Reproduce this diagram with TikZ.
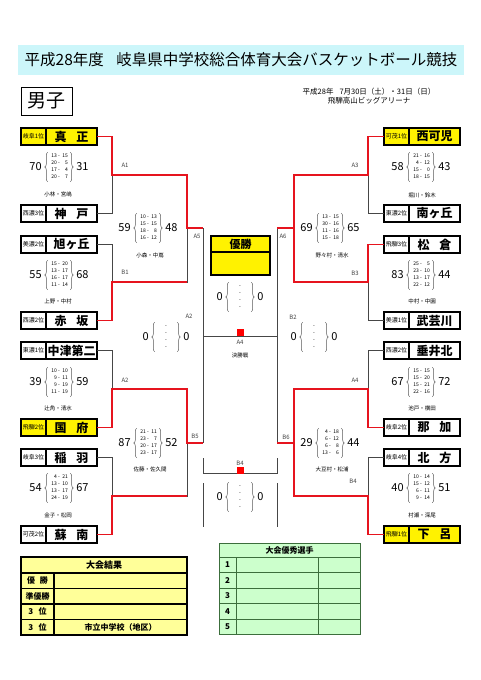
\documentclass[tikz,border=0pt]{standalone}
\usepackage{fontspec}
\setmainfont{Noto Sans CJK JP}
\usepackage{array}
\usepackage{tikz}
\usetikzlibrary{positioning,decorations.pathreplacing}
\newcolumntype{R}{>{\raggedleft\arraybackslash}p{7pt}}
\definecolor{titlecyan}{RGB}{204,246,250}
\definecolor{resyellow}{RGB}{255,255,153}
\definecolor{mvpgreen}{RGB}{204,255,204}
\definecolor{mvpline}{RGB}{60,110,60}
\definecolor{winred}{RGB}{230,20,30}
\definecolor{bline}{RGB}{70,70,70}
\tikzstyle{teamlbl} = [draw, line width=1.3pt, outer sep=0pt, inner sep=0pt, minimum width=25pt, minimum height=17pt, font=\fontsize{6}{6}\selectfont]
\tikzstyle{teamname} = [draw, line width=1.3pt, outer sep=0pt, inner sep=0pt, minimum width=51pt, minimum height=17pt, font=\fontsize{12}{12}\selectfont\bfseries]
\tikzstyle{seed} = [fill=yellow]
\tikzstyle{won} = [draw=winred, line width=1.6pt]
\tikzstyle{lost} = [draw=bline, line width=0.9pt]
\tikzstyle{sets} = [inner xsep=2pt, inner ysep=0.5pt, font=\fontsize{5}{7}\selectfont]
\tikzstyle{brc} = [decorate, decoration={brace, amplitude=3pt}, draw=black!65, line width=0.5pt]
\tikzstyle{pts} = [inner sep=0pt, font=\fontsize{11}{11}\selectfont]
\tikzstyle{refs} = [font=\fontsize{5.5}{6}\selectfont]
\tikzstyle{gameid} = [text=black!75, font=\fontsize{6}{6}\selectfont]
\tikzstyle{restab} = [draw, fill=resyellow, line width=1.2pt, outer sep=0pt, inner sep=0pt, minimum height=15.5pt, font=\fontsize{8}{8}\selectfont\bfseries]
\tikzstyle{mvptab} = [draw=mvpline, fill=mvpgreen, line width=0.8pt, outer sep=0pt, inner sep=0pt, minimum height=15.5pt, font=\fontsize{8}{8}\selectfont\bfseries]
\newcommand{\game}[5]{%
  \node[sets] (#1) at #2 {\begin{tabular}{@{}R@{\ -\ }R@{}}#5\end{tabular}};
  \draw[brc] (#1.south west) -- (#1.north west);
  \draw[brc] (#1.north east) -- (#1.south east);
  \node[pts, left=6pt of #1] (#1l) {#3};
  \node[pts, right=6pt of #1] (#1r) {#4};}

\begin{document}
\begin{tikzpicture}[x=1pt,y=-1pt]
	\useasboundingbox (0,0) rectangle (481,680);
	\fill[white] (0,0) rectangle (481,680);
	% heading
	\node[fill=titlecyan, minimum width=446pt, minimum height=30pt, inner sep=0pt, font=\fontsize{15.5}{16}\selectfont] (ttl) at (241,60) {平成28年度\hspace{0.8em}岐阜県中学校総合体育大会バスケットボール競技};
	\node[draw, line width=0.9pt, minimum width=51pt, minimum height=28pt, inner sep=0pt, font=\fontsize{19}{19}\selectfont] (boys) at (46.5,101) {男子};
	\node[font=\fontsize{7.5}{8}\selectfont, inner sep=0pt] (date) at (369,92) {平成28年\hspace{0.8em}7月30日（土）・31日（日）};
	\node[font=\fontsize{7.5}{8}\selectfont, inner sep=0pt] (hall) at (369,101) {飛騨高山ビッグアリーナ};

	% left teams
	\node[teamlbl, seed] (l1) at (33.5,136.5) {岐阜1位};
	\node[teamname, seed, right=0pt of l1] (t1) {真\hspace{0.8em}正};
	\node[teamlbl] (l2) at (33.5,213.5) {西濃3位};
	\node[teamname, right=0pt of l2] (t2) {神\hspace{0.8em}戸};
	\node[teamlbl] (l3) at (33.5,244.5) {美濃2位};
	\node[teamname, right=0pt of l3] (t3) {旭ヶ丘};
	\node[teamlbl] (l4) at (33.5,320.5) {西濃2位};
	\node[teamname, right=0pt of l4] (t4) {赤\hspace{0.8em}坂};
	\node[teamlbl] (l5) at (33.5,350.5) {東濃1位};
	\node[teamname, right=0pt of l5] (t5) {中津第二};
	\node[teamlbl, seed] (l6) at (33.5,427.5) {飛騨2位};
	\node[teamname, seed, right=0pt of l6] (t6) {国\hspace{0.8em}府};
	\node[teamlbl] (l7) at (33.5,457.5) {岐阜3位};
	\node[teamname, right=0pt of l7] (t7) {稲\hspace{0.8em}羽};
	\node[teamlbl] (l8) at (33.5,534.5) {可茂2位};
	\node[teamname, right=0pt of l8] (t8) {蘇\hspace{0.8em}南};

	% right teams
	\node[teamlbl, seed] (l9) at (396.5,136.5) {可茂1位};
	\node[teamname, seed, right=0pt of l9] (t9) {西可児};
	\node[teamlbl] (l10) at (396.5,213.5) {東濃2位};
	\node[teamname, right=0pt of l10] (t10) {南ヶ丘};
	\node[teamlbl] (l11) at (396.5,244.5) {飛騨3位};
	\node[teamname, right=0pt of l11] (t11) {松\hspace{0.8em}倉};
	\node[teamlbl] (l12) at (396.5,320.5) {美濃1位};
	\node[teamname, right=0pt of l12] (t12) {武芸川};
	\node[teamlbl] (l13) at (396.5,350.5) {西濃2位};
	\node[teamname, right=0pt of l13] (t13) {垂井北};
	\node[teamlbl] (l14) at (396.5,427.5) {岐阜2位};
	\node[teamname, right=0pt of l14] (t14) {那\hspace{0.8em}加};
	\node[teamlbl] (l15) at (396.5,457.5) {岐阜4位};
	\node[teamname, right=0pt of l15] (t15) {北\hspace{0.8em}方};
	\node[teamlbl, seed] (l16) at (396.5,534.5) {飛騨1位};
	\node[teamname, seed, right=0pt of l16] (t16) {下\hspace{0.8em}呂};

	% junctions
	\coordinate (a1) at (112,175);  \coordinate (b1) at (112,282);
	\coordinate (a2) at (112,389);  \coordinate (b2) at (112,496);
	\coordinate (s1) at (187,228);  \coordinate (s2) at (187,443);
	\coordinate (f1) at (203,228);  \coordinate (f2) at (203,443);
	\coordinate (a3) at (368,175);  \coordinate (b3) at (368,282);
	\coordinate (a4) at (368,389);  \coordinate (b4) at (368,496);
	\coordinate (s3) at (294,228);  \coordinate (s4) at (294,443);
	\coordinate (f3) at (277,228);  \coordinate (f4) at (277,443);
	\coordinate (c1) at (203,336);  \coordinate (c2) at (277,336);

	% bracket, left
	\draw[lost] (t2.east) -| (a1);
	\draw[lost] (t3.east) -| (b1) -| (s1);
	\draw[lost] (t5.east) -| (a2);
	\draw[lost] (t7.east) -| (b2) -| (s2);
	\draw[lost] (f1) -- (f2);
	\draw[won] (t1.east) -| (a1) -| (s1) -- (f1);
	\draw[won] (t4.east) -| (b1) -- (b1 -| s1);
	\draw[won] (t6.east) -| (a2) -| (s2) -- (f2);
	\draw[won] (t8.east) -| (b2) -- (b2 -| s2);
	% bracket, right
	\draw[lost] (l10.west) -| (a3);
	\draw[lost] (l12.west) -| (b3);
	\draw[lost] (l13.west) -| (a4);
	\draw[lost] (l15.west) -| (b4);
	\draw[lost] (f3) -- (f4);
	\draw[won] (l9.west) -| (a3) -| (s3) -- (f3);
	\draw[won] (l11.west) -| (b3) -| (s3);
	\draw[won] (l14.west) -| (a4) -| (s4) -- (f4);
	\draw[won] (l16.west) -| (b4) -| (s4);
	% final
	\draw[lost] (c1) -- (c2);
	\node[fill=red, minimum size=7pt, inner sep=0pt] (fmark) at (240,332) {};
	\node[gameid] (gA4) at (240,342) {A4};
	\node[refs] (fname) at (240,355) {決勝戦};
	\node[draw, fill=yellow, line width=1.3pt, outer sep=0pt, inner sep=0pt, minimum width=59pt, minimum height=16pt, font=\fontsize{11}{11}\selectfont\bfseries] (yusho) at (240.5,244) {優勝};
	\node[draw, fill=yellow, line width=1.3pt, outer sep=0pt, minimum width=59pt, minimum height=23pt, below=0pt of yusho] (champ) {};
	% lower centre
	\coordinate (d1) at (203,458);  \coordinate (d2) at (203,473);
	\coordinate (d3) at (277,473);  \coordinate (d4) at (277,458);
	\draw[lost] (d1) -- (d2) -- (d3) -- (d4);
	\node[fill=red, minimum size=7pt, inner sep=0pt] (bmark) at (240,470) {};
	\node[gameid] (gB4c) at (240,463) {B4};
	\coordinate (e1) at (203,483);  \coordinate (e2) at (203,527);
	\coordinate (e3) at (277,483);  \coordinate (e4) at (277,527);
	\draw[lost] (e1) -- (e2);
	\draw[lost] (e3) -- (e4);

	% game ids
	\node[gameid] (gA1) at (125,165) {A1};
	\node[gameid] (gB1) at (125,272) {B1};
	\node[gameid] (gA2) at (125,380) {A2};
	\node[gameid] (gA5) at (197,236) {A5};
	\node[gameid] (gB5) at (195,436) {B5};
	\node[gameid] (gA2c) at (189,316) {A2};
	\node[gameid] (gB2c) at (293,317) {B2};
	\node[gameid] (gA3) at (355,165) {A3};
	\node[gameid] (gB3) at (355,273) {B3};
	\node[gameid] (gA6) at (283,236) {A6};
	\node[gameid] (gB6) at (286,437) {B6};
	\node[gameid] (gA4r) at (355,380) {A4};
	\node[gameid] (gB4) at (353,481) {B4};

	% scores
	\game{g1}{(59,167)}{70}{31}{13&15\\20&5\\17&4\\20&7}
	\game{g2}{(59,275)}{55}{68}{15&20\\13&17\\16&17\\11&14}
	\game{g3}{(59,382)}{39}{59}{10&10\\9&11\\9&19\\11&19}
	\game{g4}{(59,488)}{54}{67}{4&21\\13&10\\13&17\\24&19}
	\game{g5}{(148,228)}{59}{48}{10&13\\15&15\\18&8\\16&12}
	\game{g6}{(148,443)}{87}{52}{21&11\\23&7\\20&17\\23&17}
	\game{g7}{(421,167)}{58}{43}{21&16\\4&12\\15&0\\18&15}
	\game{g8}{(421,275)}{83}{44}{25&5\\23&10\\13&17\\22&12}
	\game{g9}{(421,382)}{67}{72}{15&15\\15&20\\15&21\\22&16}
	\game{g10}{(421,488)}{40}{51}{10&14\\15&12\\6&11\\9&14}
	\game{g11}{(330,228)}{69}{65}{13&15\\30&16\\11&16\\15&18}
	\game{g12}{(330,443)}{29}{44}{4&18\\6&12\\6&8\\13&6}
	\game{g13}{(240,297)}{0}{0}{&\\&\\&\\&}
	\game{g14}{(166,337)}{0}{0}{&\\&\\&\\&}
	\game{g15}{(314,337)}{0}{0}{&\\&\\&\\&}
	\game{g16}{(240,497)}{0}{0}{&\\&\\&\\&}

	% referees
	\node[refs] (r1) at (58,194) {小林・宮嶋};
	\node[refs] (r2) at (58,301) {上野・中村};
	\node[refs] (r3) at (58,408) {辻角・清水};
	\node[refs] (r4) at (58,515) {金子・松岡};
	\node[refs] (r5) at (150,255) {小森・中嶌};
	\node[refs] (r6) at (150,469) {佐藤・佐久間};
	\node[refs] (r7) at (422,195) {堀川・鈴木};
	\node[refs] (r8) at (422,301) {中村・中園};
	\node[refs] (r9) at (422,408) {池戸・横田};
	\node[refs] (r10) at (422,515) {村瀬・深尾};
	\node[refs] (r11) at (332,255) {野々村・清水};
	\node[refs] (r12) at (332,469) {大豆村・松浦};

	% results
	\node[restab, minimum width=166pt, minimum height=16pt, font=\fontsize{9}{9}\selectfont\bfseries] (res) at (104,565) {大会結果};
	\node[restab, minimum width=33pt, anchor=north west] (p1) at (res.south west) {優\hspace{0.6em}勝};
	\node[restab, minimum width=133pt, right=0pt of p1] (p1v) {};
	\node[restab, minimum width=33pt, anchor=north west] (p2) at (p1.south west) {準優勝};
	\node[restab, minimum width=133pt, right=0pt of p2] (p2v) {};
	\node[restab, minimum width=33pt, anchor=north west] (p3) at (p2.south west) {3\hspace{0.7em}位};
	\node[restab, minimum width=133pt, right=0pt of p3] (p3v) {};
	\node[restab, minimum width=33pt, anchor=north west] (p4) at (p3.south west) {3\hspace{0.7em}位};
	\node[restab, minimum width=133pt, right=0pt of p4] (p4v) {市立中学校（地区）};

	% best players
	\node[mvptab, minimum width=141pt, minimum height=14pt] (mvp) at (289.5,550) {大会優秀選手};
	\node[mvptab, minimum width=17pt, anchor=north west] (m1) at (mvp.south west) {1};
	\node[mvptab, minimum width=82pt, right=0pt of m1] (m1n) {};
	\node[mvptab, minimum width=42pt, right=0pt of m1n] (m1s) {};
	\node[mvptab, minimum width=17pt, anchor=north west] (m2) at (m1.south west) {2};
	\node[mvptab, minimum width=82pt, right=0pt of m2] (m2n) {};
	\node[mvptab, minimum width=42pt, right=0pt of m2n] (m2s) {};
	\node[mvptab, minimum width=17pt, anchor=north west] (m3) at (m2.south west) {3};
	\node[mvptab, minimum width=82pt, right=0pt of m3] (m3n) {};
	\node[mvptab, minimum width=42pt, right=0pt of m3n] (m3s) {};
	\node[mvptab, minimum width=17pt, anchor=north west] (m4) at (m3.south west) {4};
	\node[mvptab, minimum width=82pt, right=0pt of m4] (m4n) {};
	\node[mvptab, minimum width=42pt, right=0pt of m4n] (m4s) {};
	\node[mvptab, minimum width=17pt, anchor=north west] (m5) at (m4.south west) {5};
	\node[mvptab, minimum width=82pt, right=0pt of m5] (m5n) {};
	\node[mvptab, minimum width=42pt, right=0pt of m5n] (m5s) {};
\end{tikzpicture}
\end{document}
